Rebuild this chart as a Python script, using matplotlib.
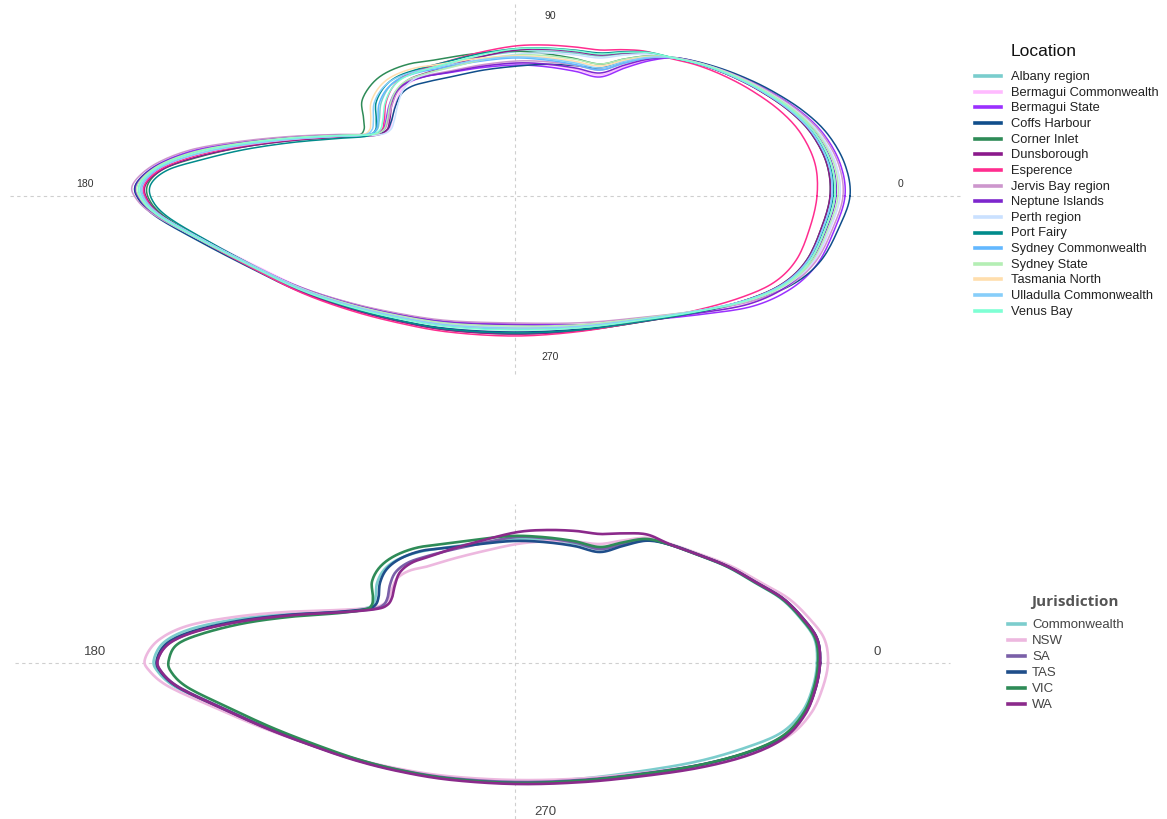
import numpy as np
import matplotlib
matplotlib.use("Agg")
import matplotlib.pyplot as plt
from matplotlib.lines import Line2D

plt.rcParams['font.family'] = ['Liberation Sans', 'DejaVu Sans']

# ---- top panel: mean outline (x right, y up, centre at 0,0) ----
top_base_x = [323, 319, 303, 280, 250, 220, 190, 160, 135, 110, 85, 60, 30, 0, -35, -65,
              -90, -110, -122, -129, -131, -134, -145, -175, -225, -275, -320, -355, -374,
              -372, -355, -315, -265, -215, -165, -115, -65, 0, 65, 125, 185, 235, 272, 297, 313]
top_base_y = [0, 32, 62, 85, 105, 120, 131, 138, 141, 139, 135, 139, 142, 142, 137, 130,
              124, 117, 107, 92, 77, 66, 61, 60, 57, 51, 42, 29, 12,
              -3, -20, -43, -69, -93, -110, -122, -130, -133, -131, -124, -115, -104, -88, -65, -33]

locations = ["Albany region", "Bermagui Commonwealth", "Bermagui State", "Coffs Harbour",
             "Corner Inlet", "Dunsborough", "Esperence", "Jervis Bay region",
             "Neptune Islands", "Perth region", "Port Fairy", "Sydney Commonwealth",
             "Sydney State", "Tasmania North", "Ulladulla Commonwealth", "Venus Bay"]
loc_colors = ["#79CDCD", "#FFBBFF", "#9B30FF", "#104E8B", "#2E8B57", "#8B1A8B", "#FF2D8F",
              "#CD96CD", "#7D26CD", "#CAE1FF", "#008B8B", "#63B8FF", "#B4EEB4", "#FFDEAD",
              "#87CEFA", "#7FFFD4"]
# shifts of each location from the mean outline in the different regions
loc_right = [-3, 2, 7, 12, -8, -8, -21, 5, -2, 2, -5, -6, 0, -3, -6, -3]
loc_top = [2, -9, -11, -12, 3, 4, 8, -7, -9, 0, 5, -4, -1, -2, -3, 5]
loc_dip = [5, -14, -16, -7, -3, 6, 11, -9, -12, 3, 8, -9, -3, -5, -7, 7]
loc_notch = [-5, 9, 3, 9, -24, 6, 0, 6, 4, 12, -10, -7, 4, -15, -12, -1]
loc_notch_top = [2, -3, -4, -9, 8, 0, 4, -3, -4, 0, 3, 0, -1, 4, 1, 2]
loc_upper_left = [1, 1, 3, 2, -4, -2, -1, 4, 2, 0, -6, 0, 2, 0, -1, 1]
loc_left = [-1, 3, -5, -5, 7, 5, 4, -8, -4, 0, 10, 2, -3, 1, 1, -1]
loc_bottom = [0, 3, 5, -3, -5, -5, -7, 6, 4, 2, -4, 0, 3, 1, 1, -1]
loc_lower_right = [0, -3, -6, 1, 0, 0, 2, -1, -4, 0, 0, 0, 0, 0, 0, 0]

# ---- bottom panel ----
bot_base_x = [307, 304, 290, 270, 245, 215, 185, 157, 133, 110, 85, 60, 30, 0, -35, -65,
              -90, -110, -123, -129, -131, -135, -145, -175, -225, -275, -320, -347, -358,
              -355, -337, -295, -250, -205, -160, -115, -65, 0, 65, 125, 185, 235, 270, 291, 302]
bot_base_y = [0, 24, 44, 64, 79, 96, 108, 118, 124, 121, 116, 121, 124, 124, 119, 114,
              109, 102, 92, 79, 66, 58, 54, 51, 48, 42, 32, 20, 4,
              -8, -24, -44, -64, -81, -96, -107, -115, -119, -117, -111, -102, -89, -73, -51, -26]

jurisdictions = ["Commonwealth", "NSW", "SA", "TAS", "VIC", "WA"]
jur_colors = ["#7CCDCD", "#EDB8DF", "#7A5FA8", "#1F4E8A", "#2E8B57", "#8B2A8B"]
jur_right = [-5, 6, -2, -2, -4, -2]
jur_top = [0, -5, 2, -2, 3, 7]
jur_dip = [-2, 3, -2, -5, 0, 13]
jur_notch = [-9, 6, 4, -6, -14, 9]
jur_notch_top = [2, -12, -2, 3, 6, -2]
jur_upper_left = [2, 5, 0, 0, -3, 0]
jur_left = [-3, -12, 1, 0, 12, 1]
jur_bottom = [0, 2, 0, -1, -1, -2]
jur_lower_right = [5, 0, 0, 0, 0, -3]

RIGHT, DIP, TOP, NOTCH_TOP, NOTCH, FLAT, UPPER_LEFT, LEFT, BOTTOM, LOWER_RIGHT = \
    0, 10, 13, 16, 19, 21, 26, 28, 37, 41


def periodic(n, anchors):
    k = np.array(sorted(anchors))
    v = np.array([anchors[i] for i in k], dtype=float)
    return np.interp(np.arange(n), np.concatenate([k - n, k, k + n]), np.tile(v, 3))


def outline(bx, by, right, top, dip, notch, notch_top, upper_left, left, bottom, lower_right):
    n = len(bx)
    dx = periodic(n, {RIGHT: right, DIP: 0, NOTCH: notch, LEFT: left, BOTTOM: 0})
    dy = periodic(n, {RIGHT: 0, 7: 0, DIP: dip, TOP: top, NOTCH_TOP: notch_top, FLAT: 0,
                      UPPER_LEFT: upper_left, LEFT: 0, BOTTOM: bottom, LOWER_RIGHT: lower_right})
    return closed_spline(np.array(bx) + dx, np.array(by) + dy)


def closed_spline(x, y, steps=10):
    p = np.column_stack([x, y])
    m = len(p)
    t = np.linspace(0, 1, steps, endpoint=False)[:, None]
    segs = []
    for i in range(m):
        p0, p1, p2, p3 = p[i - 1], p[i], p[(i + 1) % m], p[(i + 2) % m]
        segs.append(0.5 * (2 * p1 + (-p0 + p2) * t + (2 * p0 - 5 * p1 + 4 * p2 - p3) * t ** 2
                           + (-p0 + 3 * p1 - 3 * p2 + p3) * t ** 3))
    out = np.vstack(segs + [p[:1]])
    return out[:, 0], out[:, 1]


fig = plt.figure(figsize=(11.67, 8.2), dpi=100)

grid_kw = dict(color="#cfcfcf", lw=0.8, ls=(0, (3, 3)), zorder=0)

# top
ax1 = fig.add_axes([0, 440 / 820, 965 / 1167, 380 / 820])
ax1.set_xlim(-515, 450)
ax1.set_ylim(-183, 197)
ax1.axis("off")
ax1.axhline(0, xmin=10 / 965, xmax=962 / 965, **grid_kw)
ax1.axvline(0, ymin=5 / 380, ymax=375 / 380, **grid_kw)
for i, name in enumerate(locations):
    x, y = outline(top_base_x, top_base_y, loc_right[i], loc_top[i], loc_dip[i], loc_notch[i],
                   loc_notch_top[i], loc_upper_left[i], loc_left[i], loc_bottom[i],
                   loc_lower_right[i])
    ax1.plot(x, y, color=loc_colors[i], lw=1.1, solid_joinstyle="round")
lab_kw = dict(fontsize=7.5, color="#333333", ha="center", va="center")
ax1.text(35, 181, "90", **lab_kw)
ax1.text(-430, 13, "180", **lab_kw)
ax1.text(385, 13, "0", **lab_kw)
ax1.text(35, -160, "270", **lab_kw)

# bottom
ax2 = fig.add_axes([0, 0, 965 / 1167, 330 / 820])
ax2.set_xlim(-515, 450)
ax2.set_ylim(-156, 174)
ax2.axis("off")
ax2.axhline(0, xmin=15 / 965, xmax=950 / 965, **grid_kw)
ax2.axvline(0, ymin=0, ymax=315 / 330, **grid_kw)
for i, name in enumerate(jurisdictions):
    x, y = outline(bot_base_x, bot_base_y, jur_right[i], jur_top[i], jur_dip[i], jur_notch[i],
                   jur_notch_top[i], jur_upper_left[i], jur_left[i], jur_bottom[i],
                   jur_lower_right[i])
    ax2.plot(x, y, color=jur_colors[i], lw=1.9, solid_joinstyle="round")
lab_kw2 = dict(fontsize=9.5, color="#444444", ha="center", va="center")
ax2.text(-420, 12, "180", **lab_kw2)
ax2.text(362, 12, "0", **lab_kw2)
ax2.text(30, -148, "270", **lab_kw2)

# legends drawn by hand (figure pixel positions, origin top-left)
def fx(px):
    return px / 1167


def fy(py):
    return 1 - py / 820


fig.text(fx(1011), fy(52), "Location", fontsize=12.5, color="#111111", va="center")
for i, name in enumerate(locations):
    yy = 77 + i * 15.65
    fig.add_artist(Line2D([fx(975), fx(1001)], [fy(yy), fy(yy)], color=loc_colors[i], lw=2.6))
    fig.text(fx(1011), fy(yy), name, fontsize=9.3, color="#222222", va="center")

fig.text(fx(1031), fy(602), "Jurisdiction", fontsize=11, color="#555555", va="center",
         family=["Open Sans", "DejaVu Sans"], weight="bold")
for i, name in enumerate(jurisdictions):
    yy = 625 + i * 16
    fig.add_artist(Line2D([fx(1008), fx(1025)], [fy(yy), fy(yy)], color=jur_colors[i], lw=2.6))
    fig.text(fx(1032), fy(yy), name, fontsize=9.5, color="#444444", va="center")

fig.savefig("out.png", dpi=100)
